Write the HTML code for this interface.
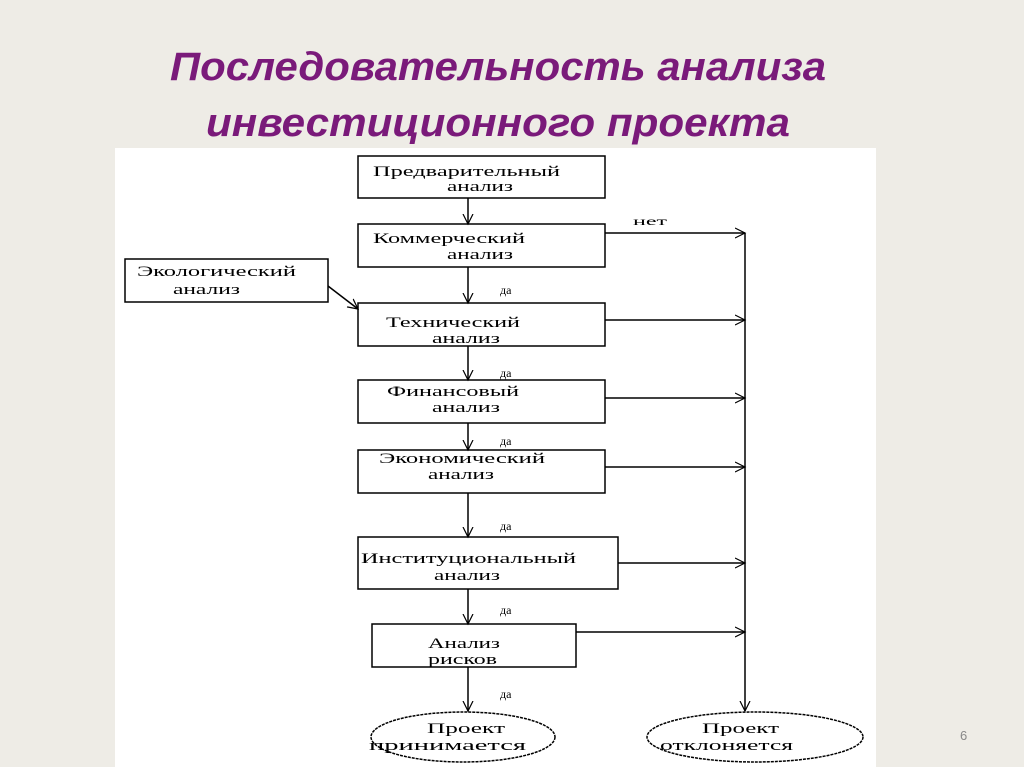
<!DOCTYPE html>
<html><head><meta charset="utf-8"><style>
html,body{margin:0;padding:0;background:#eeece6;}
svg{display:block}
</style></head><body>
<svg width="1024" height="767" viewBox="0 0 1024 767" xmlns="http://www.w3.org/2000/svg">
<defs>
<marker id="a" markerWidth="12" markerHeight="12" refX="10" refY="6" orient="auto" markerUnits="userSpaceOnUse">
<path d="M0,1 L10,6 L0,11" fill="none" stroke="#000" stroke-width="1.2"/>
</marker>
</defs>
<rect width="1024" height="767" fill="#eeece6"/>
<g font-family="Liberation Sans, sans-serif" font-weight="bold" font-style="italic" fill="#7a1a7a" font-size="40" text-anchor="middle">
<text x="498" y="80" textLength="656" lengthAdjust="spacingAndGlyphs">Последовательность анализа</text>
<text x="498" y="136" textLength="584" lengthAdjust="spacingAndGlyphs">инвестиционного проекта</text>
</g>
<rect x="115" y="148" width="761" height="619" fill="#fff"/>
<g fill="#fff" stroke="#000" stroke-width="1.5">
<rect x="358" y="156" width="247" height="42"/>
<rect x="358" y="224" width="247" height="43"/>
<rect x="125" y="259" width="203" height="43"/>
<rect x="358" y="303" width="247" height="43"/>
<rect x="358" y="380" width="247" height="43"/>
<rect x="358" y="450" width="247" height="43"/>
<rect x="358" y="537" width="260" height="52"/>
<rect x="372" y="624" width="204" height="43"/>
<ellipse cx="463" cy="737" rx="92" ry="25" stroke-dasharray="3,1"/>
<ellipse cx="755" cy="737" rx="108" ry="25" stroke-dasharray="3,1"/>
</g>
<g stroke="#000" stroke-width="1.5" fill="none" marker-end="url(#a)">
<line x1="468" y1="198" x2="468" y2="224"/>
<line x1="468" y1="267" x2="468" y2="303"/>
<line x1="468" y1="346" x2="468" y2="380"/>
<line x1="468" y1="423" x2="468" y2="450"/>
<line x1="468" y1="493" x2="468" y2="537"/>
<line x1="468" y1="589" x2="468" y2="624"/>
<line x1="468" y1="667" x2="468" y2="711"/>
<line x1="605" y1="233" x2="745" y2="233"/>
<line x1="605" y1="320" x2="745" y2="320"/>
<line x1="605" y1="398" x2="745" y2="398"/>
<line x1="605" y1="467" x2="745" y2="467"/>
<line x1="618" y1="563" x2="745" y2="563"/>
<line x1="576" y1="632" x2="745" y2="632"/>
<line x1="745" y1="233" x2="745" y2="711"/>
<line x1="328" y1="286" x2="358" y2="309"/>
</g>
<g font-family="Liberation Serif, serif" font-size="15" fill="#000" lengthAdjust="spacingAndGlyphs">
<text x="373" y="176" textLength="187" lengthAdjust="spacingAndGlyphs">Предварительный</text>
<text x="447" y="191" textLength="66" lengthAdjust="spacingAndGlyphs">анализ</text>
<text x="373" y="243" textLength="152" lengthAdjust="spacingAndGlyphs">Коммерческий</text>
<text x="447" y="259" textLength="66" lengthAdjust="spacingAndGlyphs">анализ</text>
<text x="137" y="276" textLength="159" lengthAdjust="spacingAndGlyphs">Экологический</text>
<text x="173" y="294" textLength="67" lengthAdjust="spacingAndGlyphs">анализ</text>
<text x="386" y="327" textLength="134" lengthAdjust="spacingAndGlyphs">Технический</text>
<text x="432" y="343" textLength="68" lengthAdjust="spacingAndGlyphs">анализ</text>
<text x="387" y="396" textLength="132" lengthAdjust="spacingAndGlyphs">Финансовый</text>
<text x="432" y="412" textLength="68" lengthAdjust="spacingAndGlyphs">анализ</text>
<text x="379" y="463" textLength="166" lengthAdjust="spacingAndGlyphs">Экономический</text>
<text x="428" y="479" textLength="66" lengthAdjust="spacingAndGlyphs">анализ</text>
<text x="361" y="563" textLength="215" lengthAdjust="spacingAndGlyphs">Институциональный</text>
<text x="434" y="580" textLength="66" lengthAdjust="spacingAndGlyphs">анализ</text>
<text x="428" y="648" textLength="72" lengthAdjust="spacingAndGlyphs">Анализ</text>
<text x="428" y="664" textLength="69" lengthAdjust="spacingAndGlyphs">рисков</text>
<text x="427" y="733" textLength="78" lengthAdjust="spacingAndGlyphs">Проект</text>
<text x="369" y="750" textLength="157" lengthAdjust="spacingAndGlyphs">принимается</text>
<text x="702" y="733" textLength="77" lengthAdjust="spacingAndGlyphs">Проект</text>
<text x="660" y="750" textLength="133" lengthAdjust="spacingAndGlyphs">отклоняется</text>
<text x="633" y="225" font-size="12" textLength="34" lengthAdjust="spacingAndGlyphs">нет</text>
<text x="500" y="294" font-size="12">да</text>
<text x="500" y="377" font-size="12">да</text>
<text x="500" y="445" font-size="12">да</text>
<text x="500" y="530" font-size="12">да</text>
<text x="500" y="614" font-size="12">да</text>
<text x="500" y="698" font-size="12">да</text>
</g>
<text x="960" y="740" font-family="Liberation Sans, sans-serif" font-size="13" fill="#888">6</text>
</svg>
</body></html>
